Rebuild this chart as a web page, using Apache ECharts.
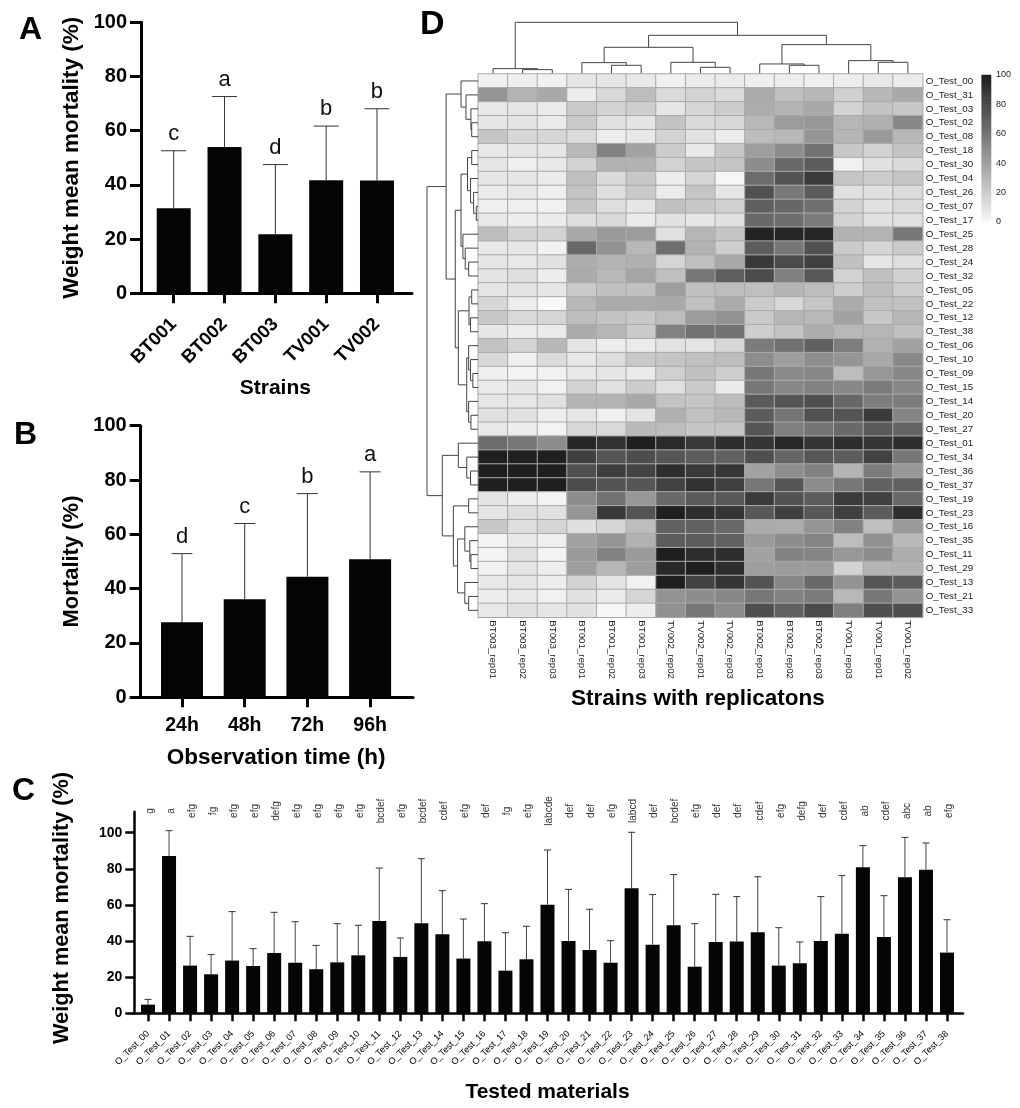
<!DOCTYPE html>
<html>
<head>
<meta charset="utf-8">
<title>Mortality panels</title>
<script src="https://cdn.jsdelivr.net/npm/echarts@6/dist/echarts.min.js"></script>
<style>
html,body{margin:0;padding:0;background:#fff}
#main{width:1020px;height:1108px}
</style>
</head>
<body>
<div id="main"></div>
<script>
// panel A
var strainNames = ['BT001','BT002','BT003','TV001','TV002'];
var strainMeans = [31.4,54,21.8,41.7,41.6];
var strainUpper = [52.6,72.6,47.5,61.7,68.1];
var strainLetters = ['c','a','d','b','b'];
// panel B
var timeNames = ['24h','48h','72h','96h'];
var timeMeans = [27.6,36.1,44.4,50.8];
var timeUpper = [52.9,64,75,83];
var timeLetters = ['d','c','b','a'];
// panel C
var testNames = ['O_Test_00','O_Test_01','O_Test_02','O_Test_03','O_Test_04','O_Test_05','O_Test_06','O_Test_07','O_Test_08','O_Test_09','O_Test_10','O_Test_11','O_Test_12','O_Test_13','O_Test_14','O_Test_15','O_Test_16','O_Test_17','O_Test_18','O_Test_19','O_Test_20','O_Test_21','O_Test_22','O_Test_23','O_Test_24','O_Test_25','O_Test_26','O_Test_27','O_Test_28','O_Test_29','O_Test_30','O_Test_31','O_Test_32','O_Test_33','O_Test_34','O_Test_35','O_Test_36','O_Test_37','O_Test_38'];
var testMeans = [4.8,87.1,26.4,21.6,29.2,26.2,33.4,28,24.4,28.2,32.1,51.1,31.2,49.8,43.7,30.3,39.9,23.6,29.9,60.1,40,35.1,28,69.2,38,48.7,25.8,39.5,39.7,44.8,26.4,27.7,40,44.1,80.8,42.3,75.3,79.5,33.6];
var testUpper = [7.7,101.1,42.6,32.5,56.3,35.8,55.9,50.7,37.6,49.6,48.7,80.4,41.7,85.6,67.9,52.2,60.7,44.6,48.2,90.4,68.6,57.6,40.2,100.2,65.7,76.8,49.6,65.9,64.6,75.6,47.4,39.5,64.6,76.2,92.8,65.1,97.4,94.3,51.8];
var testLetters = ['g','a','efg','fg','efg','efg','defg','efg','efg','efg','efg','bcdef','efg','bcdef','cdef','efg','def','fg','efg','labcde','def','def','efg','labcd','def','bcdef','efg','def','def','cdef','efg','defg','def','cdef','ab','cdef','abc','ab','efg'];
var testTicks = [0,20,40,60,80,100];
// panel D
var heatCols = ['BT003_rep01','BT003_rep02','BT003_rep03','BT001_rep01','BT001_rep02','BT001_rep03','TV002_rep02','TV002_rep01','TV002_rep03','BT002_rep01','BT002_rep02','BT002_rep03','TV001_rep03','TV001_rep01','TV001_rep02'];
var heatRows = ['O_Test_00','O_Test_31','O_Test_03','O_Test_02','O_Test_08','O_Test_18','O_Test_30','O_Test_04','O_Test_26','O_Test_07','O_Test_17','O_Test_25','O_Test_28','O_Test_24','O_Test_32','O_Test_05','O_Test_22','O_Test_12','O_Test_38','O_Test_06','O_Test_10','O_Test_09','O_Test_15','O_Test_14','O_Test_20','O_Test_27','O_Test_01','O_Test_34','O_Test_36','O_Test_37','O_Test_19','O_Test_23','O_Test_16','O_Test_35','O_Test_11','O_Test_29','O_Test_13','O_Test_21','O_Test_33'];
var heatValues = [
[4,5,4,9,9,8,4,7,7,5,6,5,6,8,7],
[46,32,37,6,15,28,14,18,14,36,26,30,19,30,37],
[8,9,7,22,18,20,9,17,21,35,32,37,18,25,23],
[9,10,7,22,12,10,25,14,16,30,43,45,31,34,52],
[24,16,17,14,6,8,18,11,7,28,30,46,31,44,30],
[8,9,9,30,55,40,21,8,23,42,50,62,23,18,25],
[9,5,8,18,33,33,18,24,24,50,66,72,4,11,14],
[9,9,7,27,14,23,6,17,2,65,76,87,24,21,24],
[7,8,5,25,12,22,7,24,9,77,60,72,12,12,14],
[5,5,4,24,13,9,26,23,19,71,67,63,18,11,15],
[8,6,7,13,15,7,11,9,11,66,64,58,18,11,12],
[28,18,18,37,44,43,12,31,24,98,97,97,33,32,60],
[8,9,4,66,47,30,64,33,20,72,60,77,22,17,22],
[9,8,11,35,32,34,17,27,37,88,80,85,26,9,13],
[10,13,6,36,30,39,27,60,71,80,56,74,18,27,19],
[9,10,9,22,26,26,42,26,28,27,32,28,20,28,20],
[16,6,1,30,36,36,37,26,36,21,16,24,36,26,26],
[23,15,17,28,25,23,28,43,47,22,31,30,40,23,31],
[9,6,7,36,31,22,55,62,62,20,25,35,30,31,27],
[25,17,30,10,6,7,11,10,16,58,63,70,57,33,40],
[15,5,14,8,13,23,24,27,28,50,42,50,46,37,52],
[5,3,4,8,9,7,19,26,20,60,51,52,28,45,52],
[7,9,4,18,12,21,12,22,7,60,52,55,52,58,52],
[9,9,12,32,32,37,25,24,28,73,76,78,67,57,58],
[12,11,6,9,5,10,34,26,30,72,61,77,76,87,54],
[8,6,3,16,15,29,28,24,24,75,56,61,66,73,69],
[65,60,50,97,92,100,95,88,93,90,96,90,93,90,93],
[100,100,100,85,76,79,75,72,70,78,68,75,72,84,60],
[100,100,100,78,86,83,93,88,90,40,50,55,32,58,45],
[100,100,100,80,76,75,84,92,85,60,75,50,60,70,70],
[10,6,3,50,62,45,66,73,74,87,77,72,87,85,66],
[10,13,12,46,88,76,100,93,90,74,85,74,85,72,93],
[23,13,17,12,17,28,70,70,66,36,35,46,55,27,44],
[3,8,5,40,46,33,72,72,70,44,50,54,28,48,29],
[3,12,3,44,55,44,100,93,93,40,55,54,45,50,35],
[4,10,6,42,31,42,96,100,93,42,43,43,18,32,33],
[8,9,6,18,10,4,100,84,90,76,53,66,47,75,72],
[6,8,4,11,7,17,47,50,52,60,55,58,30,60,47],
[8,12,9,11,2,6,48,60,50,78,70,80,56,78,78]
];
// steps of the colour key, it is banded in the picture
var keyLevels = [2,4,6,8,10,12,14,16,18,20,22,24,26,28,30,32,34,36,38,40,42,44,46,48,50,52,54,56,58,60,62,64,66,68,70,72,74,76,78,80,82,84,86,88,90,92,94,96,98,100];
// dendrograms, written like hclust: negative = leaf number, positive = earlier merge
var colMerge = [[-2,-3],[-1,1],[-5,-6],[-4,3],[-8,-9],[-7,5],[4,6],[-11,-12],[-10,8],[-14,-15],[-13,10],[9,11],[7,12],[2,13]];
var colHeights = [11,14,24,32,18,33,78,24,28,33,38,86,114,153];
var rowMerge = [[-4,-5],[-3,1],[-2,2],[-1,3],[-6,-7],[-10,-11],[-9,6],[-8,7],[5,8],[-14,-15],[-13,10],[-12,11],[9,12],[-16,-17],[-18,-19],[14,15],[-22,-23],[-21,17],[-20,18],[-25,-26],[-24,20],[19,21],[16,22],[13,23],[4,24],[-29,-30],[-28,26],[-27,27],[-31,-32],[-35,-36],[-34,30],[-33,31],[-38,-39],[-37,33],[32,34],[29,35],[28,36],[25,37]];
var rowHeights = [17,19,32,45,17,5,12,20,28,25,34,40,45,17,20,24,14,20,25,19,25,30,52,60,84,20,30,52,25,19,22,35,25,35,54,65,94,134];

var FONT = '"Liberation Sans", Arial, sans-serif';

// one item per merge: [posA, posB, heightA, heightB, height]
function dendroData(merge, heights) {
    var centers = [];
    var out = [];
    for (var i = 0; i < merge.length; i++) {
        var a = merge[i][0], b = merge[i][1];
        var pa = a < 0 ? -a - 0.5 : centers[a - 1];
        var pb = b < 0 ? -b - 0.5 : centers[b - 1];
        var ha = a < 0 ? 0 : heights[a - 1];
        var hb = b < 0 ? 0 : heights[b - 1];
        centers.push((pa + pb) / 2);
        out.push([pa, pb, ha, hb, heights[i]]);
    }
    return out;
}

function dendroSeries(idx, merge, heights, horizontal) {
    return {
        type: 'custom', xAxisIndex: idx, yAxisIndex: idx, silent: true,
        data: dendroData(merge, heights),
        renderItem: function (params, api) {
            var pa = api.value(0), pb = api.value(1), ha = api.value(2), hb = api.value(3), h = api.value(4);
            var pts = horizontal
                ? [[ha, pa], [h, pa], [h, pb], [hb, pb]]
                : [[pa, ha], [pa, h], [pb, h], [pb, hb]];
            return {
                type: 'polyline',
                shape: {points: pts.map(function (p) { return api.coord(p); })},
                style: {stroke: '#444', lineWidth: 1, fill: null}
            };
        }
    };
}

function barSeries(idx, means, width) {
    return {
        type: 'bar', xAxisIndex: idx, yAxisIndex: idx, silent: true,
        data: means, barWidth: width,
        itemStyle: {color: '#050505'}
    };
}

function errorSeries(idx, upper, letters, capWidth, fontSize, gap) {
    return {
        type: 'custom', xAxisIndex: idx, yAxisIndex: idx, silent: true, z: 1,
        encode: {x: 0, y: [1, 2]},
        data: upper.map(function (u, i) { return [i, (idx === 0 ? strainMeans : timeMeans)[i], u]; }),
        renderItem: function (params, api) {
            var base = api.coord([api.value(0), api.value(1)]);
            var top = api.coord([api.value(0), api.value(2)]);
            return {
                type: 'group',
                children: [
                    {type: 'line', shape: {x1: top[0], y1: base[1], x2: top[0], y2: top[1]}, style: {stroke: '#333', lineWidth: 1}},
                    {type: 'line', shape: {x1: top[0] - capWidth / 2, y1: top[1], x2: top[0] + capWidth / 2, y2: top[1]}, style: {stroke: '#333', lineWidth: 1}},
                    {type: 'text', x: top[0], y: top[1] - gap, style: {text: letters[params.dataIndex], fontSize: fontSize, fontFamily: FONT, fill: '#111', align: 'center', verticalAlign: 'bottom'}}
                ]
            };
        }
    };
}

function testErrorSeries() {
    return {
        type: 'custom', xAxisIndex: 4, yAxisIndex: 4, silent: true,
        encode: {x: 0, y: [1, 2]},
        data: testUpper.map(function (u, i) { return [i, testMeans[i], u]; }),
        renderItem: function (params, api) {
            var base = api.coord([api.value(0), api.value(1)]);
            var top = api.coord([api.value(0), api.value(2)]);
            var head = api.coord([api.value(0), 112]);
            return {
                type: 'group',
                children: [
                    {type: 'line', shape: {x1: top[0], y1: base[1], x2: top[0], y2: top[1]}, style: {stroke: '#444', lineWidth: 1}},
                    {type: 'line', shape: {x1: top[0] - 3.5, y1: top[1], x2: top[0] + 3.5, y2: top[1]}, style: {stroke: '#333', lineWidth: 1}},
                    {type: 'text', x: head[0] + 2, y: head[1], rotation: Math.PI / 2, style: {text: testLetters[params.dataIndex], fontSize: 10, fontFamily: FONT, fill: '#333', align: 'center', verticalAlign: 'middle'}}
                ]
            };
        }
    };
}

// long base line of a bar panel, wider than the category bands
function frameAxes(grid, width) {
    return {
        x: {gridIndex: grid, type: 'value', min: 0, max: 1, splitLine: {show: false}, axisTick: {show: false}, axisLabel: {show: false}, axisLine: {show: true, onZero: false, lineStyle: {color: '#000', width: width}}},
        y: {gridIndex: grid, type: 'value', min: 0, max: 1, show: false}
    };
}

function mainX(grid, names, o) {
    return {
        gridIndex: grid, type: 'category', data: names,
        axisLine: {show: false},
        axisTick: {show: true, alignWithLabel: true, length: o.tick, lineStyle: {color: '#000', width: o.width}},
        axisLabel: {interval: 0, rotate: o.rotate, margin: o.margin, fontSize: o.font, fontWeight: o.weight, color: '#000', fontFamily: FONT},
        name: o.name, nameLocation: 'middle', nameGap: o.nameGap, nameMoveOverlap: false,
        nameTextStyle: {fontSize: o.nameFont, fontWeight: 'bold', color: '#000', fontFamily: FONT}
    };
}

function mainY(grid, o) {
    var y = {
        gridIndex: grid, type: 'value', min: 0, max: o.max, offset: o.offset,
        splitLine: {show: false},
        axisLine: {show: true, lineStyle: {color: '#000', width: o.width}},
        axisTick: {show: true, length: o.tick, lineStyle: {color: '#000', width: o.width}},
        axisLabel: {fontSize: o.font, fontWeight: 'bold', color: '#000', margin: o.tick + 3, fontFamily: FONT},
        name: o.name, nameLocation: 'middle', nameGap: o.nameGap, nameMoveOverlap: false,
        nameTextStyle: {fontSize: o.nameFont, fontWeight: 'bold', color: '#000', fontFamily: FONT, padding: o.namePad || 0}
    };
    if (o.ticks) {
        y.axisTick.customValues = o.ticks;
        y.axisLabel.customValues = o.ticks;
    } else {
        y.interval = 20;
    }
    return y;
}

function panelLetter(text, x, y, size) {
    return {type: 'text', x: x, y: y, style: {text: text, fontSize: size, fontWeight: 'bold', fontFamily: FONT, fill: '#000', verticalAlign: 'top'}};
}

var heatData = [];
for (var r = 0; r < heatValues.length; r++) {
    for (var c = 0; c < heatValues[r].length; c++) {
        heatData.push([c, r, heatValues[r][c]]);
    }
}
var keyData = keyLevels.map(function (v, i) { return [0, i, v]; });

var frameA = frameAxes(1, 3), frameB = frameAxes(3, 3), frameC = frameAxes(5, 2.5);

var option = {
    backgroundColor: '#fff',
    animation: false,
    textStyle: {fontFamily: FONT},
    graphic: [
        panelLetter('A', 19, 14, 32),
        panelLetter('B', 14, 419, 32),
        panelLetter('C', 12, 775, 32),
        panelLetter('D', 420, 8, 34)
    ],
    grid: [
        {left: 148.3, top: 22.3, width: 254.1, height: 271},
        {left: 139.5, top: 22.3, width: 272.5, height: 271},
        {left: 150.65, top: 425.7, width: 250.8, height: 271.6},
        {left: 139, top: 425.7, width: 274, height: 271.6},
        {left: 137.5, top: 811.7, width: 820, height: 201.6},
        {left: 133, top: 811.7, width: 830, height: 201.6},
        {left: 478.2, top: 74, width: 444.5, height: 543.3},
        {left: 478.2, top: 22.3, width: 444.5, height: 51},
        {left: 427, top: 74, width: 51.2, height: 543.3},
        {left: 991, top: 75, width: 1, height: 147},
        {left: 981.7, top: 75, width: 9.3, height: 147}
    ],
    xAxis: [
        mainX(0, strainNames, {tick: 10, width: 3, rotate: 45, margin: 28, font: 18.5, weight: 'bold', name: 'Strains', nameGap: 84, nameFont: 21}),
        frameA.x,
        mainX(2, timeNames, {tick: 10, width: 3, rotate: 0, margin: 18, font: 19.5, weight: 'bold', name: 'Observation time (h)', nameGap: 49, nameFont: 22.5}),
        frameB.x,
        mainX(4, testNames, {tick: 8, width: 2.5, rotate: 45, margin: 19, font: 9.2, weight: 'normal', name: 'Tested materials', nameGap: 68, nameFont: 21}),
        frameC.x,
        {gridIndex: 6, type: 'category', data: heatCols, axisLine: {show: true, lineStyle: {color: '#555', width: 1}}, axisTick: {show: false},
            axisLabel: {interval: 0, rotate: -90, margin: 3, fontSize: 9.7, color: '#222', fontFamily: FONT},
            name: 'Strains with replicatons', nameLocation: 'middle', nameGap: 69.5, nameMoveOverlap: false, nameTextStyle: {fontSize: 22.5, fontWeight: 'bold', color: '#000', fontFamily: FONT, padding: [0, 5, 0, 0]}},
        {gridIndex: 7, type: 'value', min: 0, max: 15, show: false},
        {gridIndex: 8, type: 'value', min: 0, max: 134, inverse: true, show: false},
        {gridIndex: 9, type: 'value', min: 0, max: 1, show: false},
        {gridIndex: 10, type: 'category', data: ['key'], show: false}
    ],
    yAxis: [
        mainY(0, {max: 100, offset: 7.3, tick: 11, width: 3, font: 20, name: 'Weight mean mortality (%)', nameGap: 58, nameFont: 22.5}),
        frameA.y,
        mainY(2, {max: 100, offset: 10, tick: 11, width: 3, font: 20, name: 'Mortality (%)', nameGap: 58, nameFont: 22}),
        frameB.y,
        mainY(4, {max: 111.6, offset: 3.2, tick: 9, width: 2.5, font: 14, ticks: testTicks, name: 'Weight mean mortality (%)', nameGap: 61, nameFont: 21.7, namePad: [0, 0, 0, 9]}),
        frameC.y,
        {gridIndex: 6, type: 'category', data: heatRows, inverse: true, position: 'right', axisLine: {show: false}, axisTick: {show: false},
            axisLabel: {interval: 0, margin: 3, fontSize: 9.8, color: '#222', fontFamily: FONT}},
        {gridIndex: 7, type: 'value', min: 0, max: 153, show: false},
        {gridIndex: 8, type: 'value', min: 0, max: 39, inverse: true, show: false},
        {gridIndex: 9, type: 'value', min: 0, max: 100, interval: 20, position: 'right', splitLine: {show: false}, axisLine: {show: false}, axisTick: {show: false},
            axisLabel: {margin: 4, fontSize: 9, color: '#222', fontFamily: FONT}},
        {gridIndex: 10, type: 'category', data: keyLevels, show: false}
    ],
    visualMap: {
        type: 'continuous', min: 0, max: 100, seriesIndex: [5, 9], dimension: 2, show: false,
        inRange: {color: ['#fafafa', '#1f1f1f']}
    },
    series: [
        barSeries(0, strainMeans, 34),
        errorSeries(0, strainUpper, strainLetters, 25, 22, 6),
        barSeries(2, timeMeans, 42),
        errorSeries(2, timeUpper, timeLetters, 21, 22, 6),
        barSeries(4, testMeans, 14),
        {type: 'heatmap', xAxisIndex: 6, yAxisIndex: 6, silent: true, data: heatData, itemStyle: {borderColor: '#aaa', borderWidth: 1}},
        testErrorSeries(),
        dendroSeries(7, colMerge, colHeights, false),
        dendroSeries(8, rowMerge, rowHeights, true),
        {type: 'heatmap', xAxisIndex: 10, yAxisIndex: 10, silent: true, data: keyData}
    ]
};

var chart = echarts.init(document.getElementById('main'), null, {renderer: 'canvas'});
chart.setOption(option);
</script>
</body>
</html>
